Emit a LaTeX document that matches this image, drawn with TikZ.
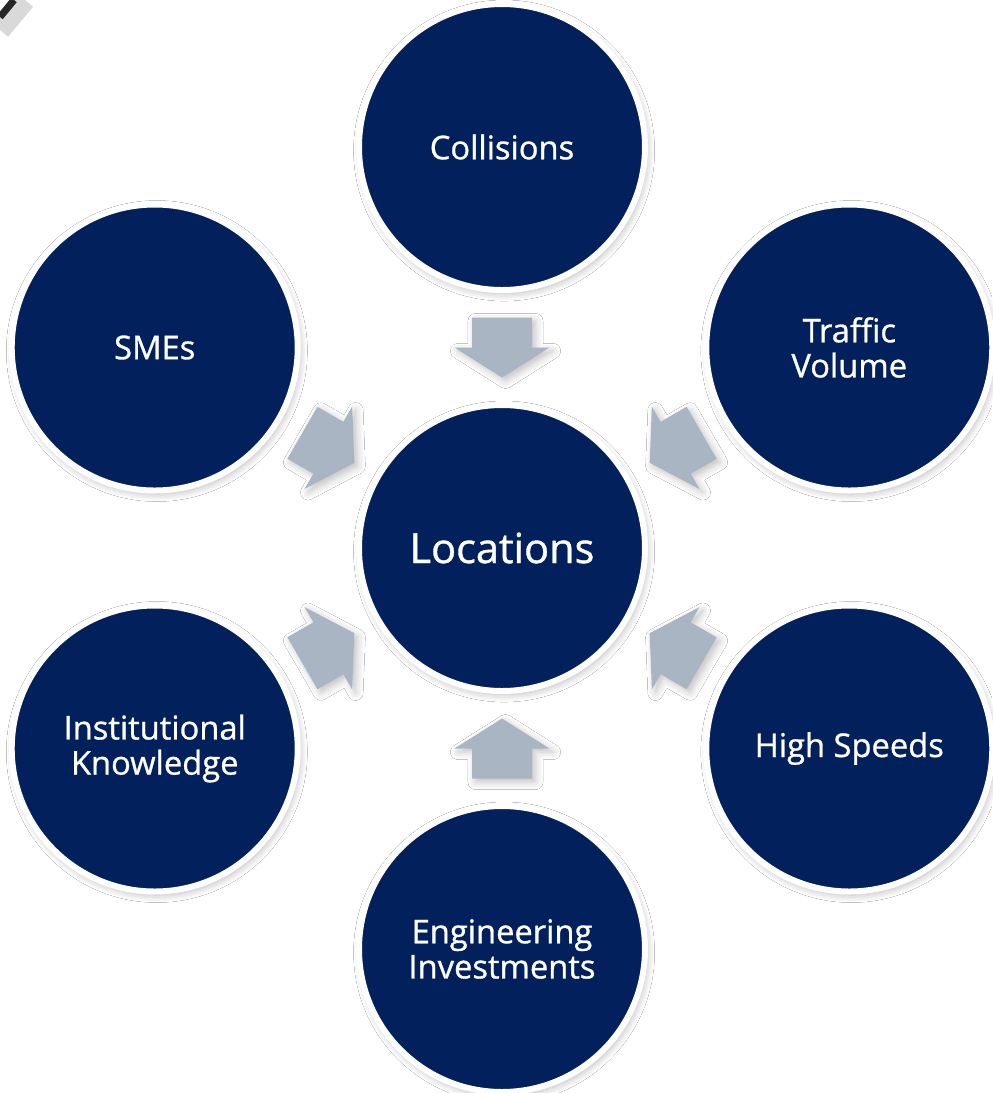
\documentclass[tikz,border=0pt]{standalone}
\usepackage{fontspec}
\setmainfont{Open Sans}
\newfontfamily\hubfont{Open Sans}[FakeBold=0.9]
\usetikzlibrary{calc,shadows.blur}
\definecolor{navy}{RGB}{2,32,92}
\definecolor{steel}{RGB}{169,181,195}
\tikzset{
	hub/.style={circle, minimum size=2.86cm, inner sep=0pt, fill=navy, draw=white, line width=0.06cm, text=white, align=center, font=\hubfont\fontsize{9.3}{10}\selectfont, blur shadow={shadow xshift=0.6pt, shadow yshift=-1pt, shadow blur steps=10, shadow opacity=28}},
	inarrow/.pic={
		\fill[steel, blur shadow={shadow xshift=1pt, shadow yshift=-1pt, shadow blur steps=5, shadow opacity=25}] (-0.3, 0.3) -- (0, 0.3) -- (0, 0.475) -- (0.3, 0) -- (0, -0.475) -- (0, -0.3) -- (-0.3, -0.3) -- cycle;
	}
}

\begin{document}
\begin{tikzpicture}
		%%%%% START %%%%%
		\useasboundingbox[fill=white] (0, 0) rectangle (9.92, -10.93);
		
		\node[hub, font=\hubfont\fontsize{11.8}{14}\selectfont] (loc) at (5.02, -5.48) {Locations};
		
		\node[hub] (coll) at ($(loc)+(90:4.01)$) {Collisions};
		\node[hub] (traf) at ($(loc)+(30:4.01)$) {Traffic\\Volume};
		\node[hub] (speed) at ($(loc)+(-30:4.01)$) {High Speeds};
		\node[hub] (eng) at ($(loc)+(-90:4.01)$) {Engineering\\Investments};
		\node[hub] (inst) at ($(loc)+(210:4.01)$) {Institutional\\Knowledge};
		\node[hub] (smes) at ($(loc)+(150:4.01)$) {SMEs};
		
		\path ($(coll)!0.5!(loc)$) pic[rotate=-90] {inarrow};
		\path ($(traf)!0.5!(loc)$) pic[rotate=210] {inarrow};
		\path ($(speed)!0.5!(loc)$) pic[rotate=150] {inarrow};
		\path ($(eng)!0.5!(loc)$) pic[rotate=90] {inarrow};
		\path ($(inst)!0.5!(loc)$) pic[rotate=30] {inarrow};
		\path ($(smes)!0.5!(loc)$) pic[rotate=-30] {inarrow};
		
		% corner of a frame cut off by the page
		\draw[line width=6pt, black!15] (0, -0.3) -- (0.25, 0);
		\draw[line width=2pt, black!85] (0, -0.17) -- (0.14, 0);
		%%%%% END %%%%%
	\end{tikzpicture}
\end{document}
